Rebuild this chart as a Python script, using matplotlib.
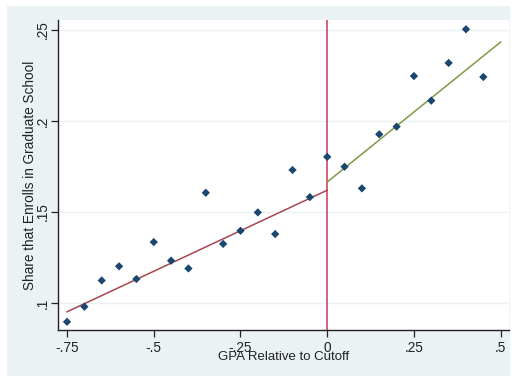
import numpy as np
import matplotlib.pyplot as plt
from matplotlib.patches import Rectangle

plt.rcParams['font.family'] = ['Liberation Sans', 'DejaVu Sans']

# binned means
gpa_bins = [-0.75, -0.70, -0.65, -0.60, -0.55, -0.50, -0.45, -0.40, -0.35, -0.30,
            -0.25, -0.20, -0.15, -0.10, -0.05, 0.00, 0.05, 0.10, 0.15, 0.20,
            0.25, 0.30, 0.35, 0.40, 0.45]
share_enrolled = [0.0897, 0.0980, 0.1124, 0.1202, 0.1132, 0.1335, 0.1233, 0.1190, 0.1606, 0.1325,
                  0.1397, 0.1498, 0.1379, 0.1731, 0.1582, 0.1803, 0.1749, 0.1630, 0.1927, 0.1969,
                  0.2247, 0.2112, 0.2319, 0.2504, 0.2242]

# fitted lines on either side of cutoff
fit_left_x = [-0.75, 0.0]
fit_left_y = [0.0952, 0.1620]
fit_right_x = [0.0, 0.5]
fit_right_y = [0.1665, 0.2434]

xticks = [-0.75, -0.5, -0.25, 0, 0.25, 0.5]
xticklabels = ['-.75', '-.5', '-.25', '0', '.25', '.5']
yticks = [0.1, 0.15, 0.2, 0.25]
yticklabels = ['.1', '.15', '.2', '.25']

fig = plt.figure(figsize=(5.12, 3.77), dpi=100, facecolor='white')
# stata graph region
fig.patches.append(Rectangle((7 / 512, 1 / 377), 503 / 512, 370 / 377,
                             transform=fig.transFigure, facecolor='#eaf2f3',
                             edgecolor='none', zorder=-10))

ax = fig.add_axes([58 / 512, 47 / 377, 451 / 512, 310 / 377])
ax.set_facecolor('white')

for yv in yticks:
    ax.axhline(yv, color='#eaf2f3', lw=1.0, zorder=1)

ax.axvline(0, color='#d6607a', lw=1.4, zorder=2)
ax.plot(fit_left_x, fit_left_y, color='#a8454f', lw=1.1, zorder=3)
ax.plot(fit_right_x, fit_right_y, color='#7d9a45', lw=1.1, zorder=3)
ax.scatter(gpa_bins, share_enrolled, marker='D', s=18, color='#1a476f',
           edgecolors='none', zorder=4)

ax.set_xlim(-0.776, 0.524)
ax.set_ylim(0.0852, 0.2555)
ax.set_xticks(xticks)
ax.set_xticklabels(xticklabels)
ax.set_yticks(yticks)
ax.set_yticklabels(yticklabels, rotation=90, va='center')

for side in ['top', 'right']:
    ax.spines[side].set_visible(False)
for side in ['left', 'bottom']:
    ax.spines[side].set_color('#222222')
    ax.spines[side].set_linewidth(1.0)

ax.tick_params(direction='out', length=5, width=0.9, color='#222222',
               labelsize=9.8, labelcolor='#222222')
ax.tick_params(axis='x', pad=3)
ax.tick_params(axis='y', pad=1)

ax.set_xlabel('GPA Relative to Cutoff', fontsize=9.5, color='#222222', va='center')
ax.set_ylabel('Share that Enrolls in Graduate School', fontsize=9.8, color='#222222', va='center')
ax.xaxis.set_label_coords(0.5, -27 / 310)
ax.yaxis.set_label_coords(-28 / 451, 0.5)

fig.savefig('out.png', dpi=100, facecolor='white')
